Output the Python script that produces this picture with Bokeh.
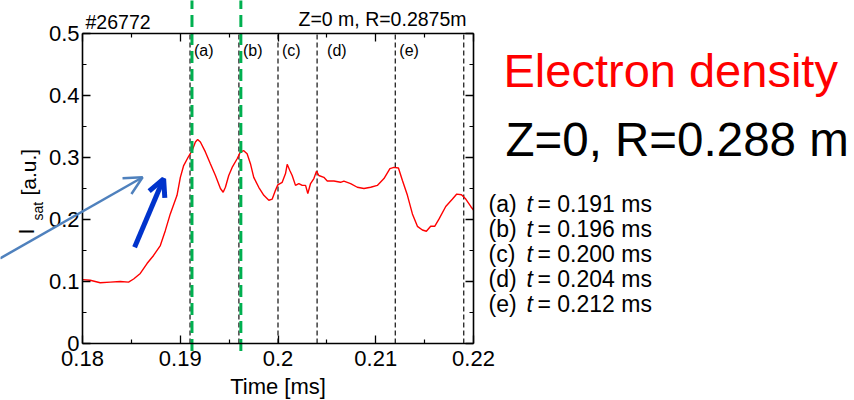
import math
from bokeh.plotting import figure
from bokeh.models import FixedTicker, LinearAxis, Label, Arrow, OpenHead
from bokeh.embed import file_html
from bokeh.resources import INLINE

# ---------------- data ----------------
time_ms = [0.18004, 0.18079, 0.18181, 0.18284, 0.18386, 0.18471, 0.18523, 0.18591,
           0.18660, 0.18727, 0.18796, 0.18847, 0.18898, 0.18967, 0.19001, 0.19035,
           0.19086, 0.19121, 0.19155, 0.19178, 0.19206, 0.19257, 0.19308, 0.19360,
           0.19411, 0.19439, 0.19462, 0.19496, 0.19531, 0.19582, 0.19616, 0.19650,
           0.19684, 0.19718, 0.19752, 0.19803, 0.19855, 0.19906, 0.19941, 0.19974,
           0.19998, 0.20043, 0.20077, 0.20094, 0.20121, 0.20145, 0.20179, 0.20213,
           0.20248, 0.20282, 0.20305, 0.20333, 0.20367, 0.20394, 0.20418, 0.20469,
           0.20504, 0.20572, 0.20640, 0.20674, 0.20743, 0.20811, 0.20879, 0.20948,
           0.21016, 0.21084, 0.21145, 0.21186, 0.21232, 0.21273, 0.21324, 0.21375,
           0.21426, 0.21477, 0.21518, 0.21562, 0.21603, 0.21648, 0.21716, 0.21785,
           0.21829, 0.21877, 0.21921, 0.21972, 0.22000]
isat = [0.103, 0.102, 0.098, 0.099, 0.100, 0.099, 0.104, 0.113,
        0.129, 0.142, 0.158, 0.182, 0.209, 0.239, 0.268, 0.287,
        0.302, 0.311, 0.325, 0.329, 0.325, 0.309, 0.290, 0.271,
        0.250, 0.244, 0.252, 0.271, 0.284, 0.298, 0.309, 0.311,
        0.306, 0.290, 0.268, 0.252, 0.239, 0.231, 0.233, 0.247,
        0.256, 0.260, 0.274, 0.289, 0.279, 0.271, 0.255, 0.258,
        0.255, 0.255, 0.242, 0.258, 0.266, 0.278, 0.271, 0.268,
        0.262, 0.262, 0.260, 0.262, 0.258, 0.252, 0.250, 0.252,
        0.255, 0.266, 0.282, 0.284, 0.283, 0.263, 0.239, 0.209,
        0.189, 0.183, 0.181, 0.189, 0.189, 0.201, 0.221, 0.233,
        0.241, 0.240, 0.233, 0.221, 0.215]

x_limits = (0.18, 0.22)
y_limits = (0.0, 0.5)
x_ticks = [0.18, 0.19, 0.20, 0.21, 0.22]
x_tick_labels = ["0.18", "0.19", "0.2", "0.21", "0.22"]
x_minor_ticks = [0.185, 0.195, 0.205, 0.215]
y_ticks = [0.0, 0.1, 0.2, 0.3, 0.4, 0.5]
y_tick_labels = ["0", "0.1", "0.2", "0.3", "0.4", "0.5"]
y_minor_ticks = [0.05, 0.15, 0.25, 0.35, 0.45]

marker_times = [0.191, 0.196, 0.200, 0.204, 0.212, 0.219]
marker_names = ["(a)", "(b)", "(c)", "(d)", "(e)", ""]
green_times = [0.1912, 0.1962]
green_extent = (-0.012, 0.56)
legend_names = ["(a)", "(b)", "(c)", "(d)", "(e)"]
legend_values = ["0.191", "0.196", "0.200", "0.204", "0.212"]

# arrows: (t_start, v_start, t_end, v_end)
light_arrow = [0.17157, 0.1373, 0.18615, 0.2682]
dark_arrow = [0.18533, 0.1553, 0.18830, 0.2656]

FONT = "Liberation Sans"

# ---------------- layout geometry (pixels of the axes box in the canvas) ----------------
W, H = 854, 400
AX_L, AX_R, AX_T, AX_B = 82, 473, 33, 343
sx = (x_limits[1] - x_limits[0]) / (AX_R - AX_L)
sy = (y_limits[1] - y_limits[0]) / (AX_B - AX_T)
x_range = (x_limits[0] - AX_L * sx, x_limits[1] + (W - AX_R) * sx)
y_range = (y_limits[0] - (H - AX_B) * sy, y_limits[1] + AX_T * sy)

p = figure(width=W, height=H, x_range=x_range, y_range=y_range,
           min_border=0, output_backend="svg", toolbar_location=None,
           x_axis_type=None, y_axis_type=None)
p.grid.visible = False
p.outline_line_color = None
p.background_fill_color = "white"
p.border_fill_color = "white"

xt = FixedTicker(ticks=x_ticks, minor_ticks=x_minor_ticks)
yt = FixedTicker(ticks=y_ticks, minor_ticks=y_minor_ticks)


def style_axis(ax, show_labels):
    ax.axis_line_color = "black"
    ax.axis_line_width = 1.6
    ax.major_tick_in = 8
    ax.major_tick_out = 0
    ax.minor_tick_in = 4
    ax.minor_tick_out = 0
    ax.major_tick_line_color = "black"
    ax.major_tick_line_width = 1.3
    ax.minor_tick_line_color = "black"
    ax.minor_tick_line_width = 1.2
    ax.major_label_text_font = FONT
    ax.major_label_text_font_size = "22px"
    ax.major_label_text_color = "black"
    if not show_labels:
        ax.major_label_text_alpha = 0
        ax.major_label_text_font_size = "1px"


xb = LinearAxis(ticker=xt, axis_label="Time [ms]", fixed_location=y_limits[0],
                bounds=x_limits)
xb.major_label_overrides = {t: s for t, s in zip(x_ticks, x_tick_labels)}
style_axis(xb, True)
xb.major_label_standoff = 7
xb.axis_label_standoff = 5
xb.axis_label_text_font = FONT
xb.axis_label_text_font_size = "22px"
xb.axis_label_text_font_style = "normal"
xb.axis_label_text_color = "black"
p.add_layout(xb, "below")

yl = LinearAxis(ticker=yt, fixed_location=x_limits[0], bounds=y_limits)
yl.major_label_overrides = {t: s for t, s in zip(y_ticks, y_tick_labels)}
style_axis(yl, True)
yl.major_label_standoff = 3
p.add_layout(yl, "left")

xa = LinearAxis(ticker=xt, fixed_location=y_limits[1], bounds=x_limits)
style_axis(xa, False)
p.add_layout(xa, "above")
yr = LinearAxis(ticker=yt, fixed_location=x_limits[1], bounds=y_limits)
style_axis(yr, False)
p.add_layout(yr, "right")

# ---------------- marker lines ----------------
n = len(marker_times)
p.segment(x0=marker_times, y0=[y_limits[0]] * n, x1=marker_times, y1=[y_limits[1]] * n,
          line_color="#222222", line_width=1.3, line_dash="5 3")
for t, name in zip(marker_times, marker_names):
    if name:
        p.add_layout(Label(x=t, y=y_limits[1], x_offset=10 if name == "(d)" else 4,
                           y_offset=-17, text=name, text_font=FONT,
                           text_font_size="16px", text_color="black",
                           text_baseline="alphabetic"))

# ---------------- data line ----------------
p.line(time_ms, isat, line_color="#FF0000", line_width=1.4)

# green dashed lines (extend beyond the axes box)
g = len(green_times)
p.segment(x0=green_times, y0=[green_extent[0]] * g, x1=green_times, y1=[green_extent[1]] * g,
          line_color="#00B050", line_width=3, line_dash="12 6")

# arrows
p.add_layout(Arrow(end=OpenHead(size=18, line_color="#4F81BD", line_width=2.5),
                   x_start=light_arrow[0], y_start=light_arrow[1],
                   x_end=light_arrow[2], y_end=light_arrow[3],
                   line_color="#4F81BD", line_width=2.5))
p.add_layout(Arrow(end=OpenHead(size=17, line_color="#0033CC", line_width=5),
                   x_start=dark_arrow[0], y_start=dark_arrow[1],
                   x_end=dark_arrow[2], y_end=dark_arrow[3],
                   line_color="#0033CC", line_width=5))


# ---------------- texts (screen units, from canvas bottom-left) ----------------
FIX = 0.42  # compensation of the rendered baseline (fraction of font size)


def add_text(x, y_base, text, size, color="black", align="left", style="normal", rotated=False):
    if rotated:
        x = x - FIX * size
        y = H - y_base
        angle = math.pi / 2
    else:
        y = H - (y_base - FIX * size)
        angle = 0.0
    p.add_layout(Label(x=x, y=y, x_units="screen", y_units="screen", text=text,
                       text_font=FONT, text_font_size=f"{size}px", text_color=color,
                       text_align=align, text_baseline="alphabetic",
                       text_font_style=style, angle=angle))


add_text(85, 30, "#26772", 19.5)
add_text(466, 27, "Z=0 m, R=0.2875m", 19.5, align="right")
add_text(503, 90, "Electron density", 47, color="#FF0000")
add_text(505, 159, "Z=0, R=0.288 m", 47.5)

for i, (nm, val) in enumerate(zip(legend_names, legend_values)):
    yb = 213 + 25 * i
    add_text(488, yb, nm, 23)
    add_text(526, yb, "t", 23, style="italic")
    add_text(537, yb, "= " + val + " ms", 23)

# y axis label: I_sat [a.u.] (rotated)
add_text(35, 234, "I", 22, rotated=True)
add_text(43, 220, "sat", 14, rotated=True)
add_text(37, 195, "[a.u.]", 21, rotated=True)

open("out.html", "w").write(file_html(p, INLINE))
